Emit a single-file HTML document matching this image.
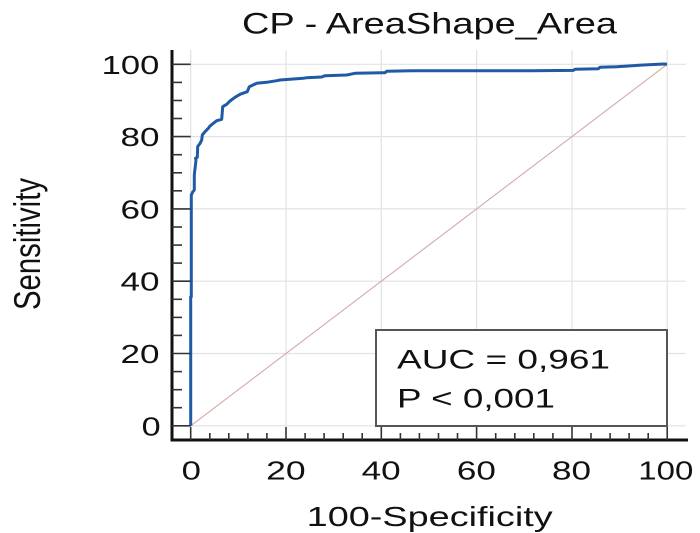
<!DOCTYPE html>
<html>
<head>
<meta charset="utf-8">
<style>
html,body{margin:0;padding:0;background:#fff;}
svg{display:block;}
text{font-family:"Liberation Sans",Arial,sans-serif;fill:#111;}
</style>
</head>
<body>
<svg width="700" height="533" viewBox="0 0 700 533" xmlns="http://www.w3.org/2000/svg">
<rect width="700" height="533" fill="#fff"/>

<!-- title -->
<text x="242" y="33.3" font-size="30" textLength="375" lengthAdjust="spacingAndGlyphs">CP - AreaShape_Area</text>

<!-- gridlines -->
<g stroke="#e2e2e2" stroke-width="1.2">
  <line x1="190.7" y1="50" x2="190.7" y2="440"/>
  <line x1="286" y1="50" x2="286" y2="440"/>
  <line x1="381.3" y1="50" x2="381.3" y2="440"/>
  <line x1="476.6" y1="50" x2="476.6" y2="440"/>
  <line x1="572" y1="50" x2="572" y2="440"/>
  <line x1="667.2" y1="50" x2="667.2" y2="440"/>
  <line x1="190" y1="64.3" x2="686" y2="64.3"/>
  <line x1="190" y1="136.6" x2="686" y2="136.6"/>
  <line x1="190" y1="208.9" x2="686" y2="208.9"/>
  <line x1="190" y1="281.2" x2="686" y2="281.2"/>
  <line x1="190" y1="353.5" x2="686" y2="353.5"/>
  <line x1="190" y1="425.8" x2="686" y2="425.8"/>
</g>

<!-- diagonal -->
<line x1="190.7" y1="425.8" x2="667.2" y2="64.3" stroke="#d3a9a9" stroke-width="1.1"/>

<!-- ROC curve -->
<polyline fill="none" stroke="#1f5aa5" stroke-width="3" stroke-linejoin="round" points="
190.7,425.8 190.7,296.7 191.3,296.7 191.3,195 192.7,192 194.3,190 194.3,175 196,160 195.5,158.3 197.3,157.3 197.7,146.5 200,143.5 201.7,140 202.3,135 205,131.7 208.3,128.3 210,126 213.3,123.3 216.7,120.7 221.7,119.3 222.7,106.7 226.7,104.3 230,101 235,97.3 240,94.3 247.3,91.7 249.3,86.7 256.7,83.3 266.7,82.3 276.7,80.7 280,80 303.3,78.3 306.7,77.7 321.7,77 325,75.7 346.7,75 355,73.3 385,72.7 386.7,71.3 411.7,70.7 530,70.7 573.3,70.4 575,69.3 598.3,68.7 600,67.3 616.7,66.7 643.3,65 664,64 667,64.3"/>

<!-- legend box -->
<rect x="376" y="330" width="291" height="96" fill="#fff" stroke="#555" stroke-width="2"/>
<text x="397" y="368.3" font-size="26.5" textLength="213" lengthAdjust="spacingAndGlyphs">AUC = 0,961</text>
<text x="397" y="407.3" font-size="26.5" textLength="158" lengthAdjust="spacingAndGlyphs">P &lt; 0,001</text>

<!-- axes -->
<g stroke="#111">
  <line x1="172" y1="50" x2="172" y2="441.5" stroke-width="3"/>
  <line x1="170.5" y1="440" x2="688" y2="440" stroke-width="3"/>
</g>

<!-- y ticks -->
<g stroke="#333" stroke-width="1.6">
  <line x1="172" y1="64.3" x2="190.7" y2="64.3"/>
  <line x1="172" y1="82.4" x2="182" y2="82.4"/>
  <line x1="172" y1="100.5" x2="182" y2="100.5"/>
  <line x1="172" y1="118.5" x2="182" y2="118.5"/>
  <line x1="172" y1="136.6" x2="190.7" y2="136.6"/>
  <line x1="172" y1="154.7" x2="182" y2="154.7"/>
  <line x1="172" y1="172.8" x2="182" y2="172.8"/>
  <line x1="172" y1="190.8" x2="182" y2="190.8"/>
  <line x1="172" y1="208.9" x2="190.7" y2="208.9"/>
  <line x1="172" y1="227" x2="182" y2="227"/>
  <line x1="172" y1="245.1" x2="182" y2="245.1"/>
  <line x1="172" y1="263.1" x2="182" y2="263.1"/>
  <line x1="172" y1="281.2" x2="190.7" y2="281.2"/>
  <line x1="172" y1="299.3" x2="182" y2="299.3"/>
  <line x1="172" y1="317.4" x2="182" y2="317.4"/>
  <line x1="172" y1="335.4" x2="182" y2="335.4"/>
  <line x1="172" y1="353.5" x2="190.7" y2="353.5"/>
  <line x1="172" y1="371.6" x2="182" y2="371.6"/>
  <line x1="172" y1="389.7" x2="182" y2="389.7"/>
  <line x1="172" y1="407.7" x2="182" y2="407.7"/>
  <line x1="172" y1="425.8" x2="190.7" y2="425.8"/>
</g>

<!-- x ticks -->
<g stroke="#333" stroke-width="1.6">
  <line x1="190.7" y1="440" x2="190.7" y2="427"/>
  <line x1="209.8" y1="440" x2="209.8" y2="433"/>
  <line x1="228.8" y1="440" x2="228.8" y2="433"/>
  <line x1="247.9" y1="440" x2="247.9" y2="433"/>
  <line x1="266.9" y1="440" x2="266.9" y2="433"/>
  <line x1="286" y1="440" x2="286" y2="427"/>
  <line x1="305.1" y1="440" x2="305.1" y2="433"/>
  <line x1="324.1" y1="440" x2="324.1" y2="433"/>
  <line x1="343.2" y1="440" x2="343.2" y2="433"/>
  <line x1="362.2" y1="440" x2="362.2" y2="433"/>
  <line x1="381.3" y1="440" x2="381.3" y2="427"/>
  <line x1="400.4" y1="440" x2="400.4" y2="433"/>
  <line x1="419.4" y1="440" x2="419.4" y2="433"/>
  <line x1="438.5" y1="440" x2="438.5" y2="433"/>
  <line x1="457.5" y1="440" x2="457.5" y2="433"/>
  <line x1="476.6" y1="440" x2="476.6" y2="427"/>
  <line x1="495.7" y1="440" x2="495.7" y2="433"/>
  <line x1="514.8" y1="440" x2="514.8" y2="433"/>
  <line x1="533.8" y1="440" x2="533.8" y2="433"/>
  <line x1="552.9" y1="440" x2="552.9" y2="433"/>
  <line x1="572" y1="440" x2="572" y2="427"/>
  <line x1="591" y1="440" x2="591" y2="433"/>
  <line x1="610.1" y1="440" x2="610.1" y2="433"/>
  <line x1="629.1" y1="440" x2="629.1" y2="433"/>
  <line x1="648.2" y1="440" x2="648.2" y2="433"/>
  <line x1="667.2" y1="440" x2="667.2" y2="427"/>
</g>

<!-- y tick labels -->
<g font-size="26">
  <text x="101.7" y="73.8" textLength="57.6" lengthAdjust="spacingAndGlyphs">100</text>
  <text x="120.5" y="146.1" textLength="39" lengthAdjust="spacingAndGlyphs">80</text>
  <text x="120.5" y="218.4" textLength="39" lengthAdjust="spacingAndGlyphs">60</text>
  <text x="120.5" y="290.7" textLength="39" lengthAdjust="spacingAndGlyphs">40</text>
  <text x="120.5" y="363" textLength="39" lengthAdjust="spacingAndGlyphs">20</text>
  <text x="141.7" y="435.3" textLength="19" lengthAdjust="spacingAndGlyphs">0</text>
</g>

<!-- x tick labels -->
<g font-size="26">
  <text x="181.7" y="479.5" textLength="19.3" lengthAdjust="spacingAndGlyphs">0</text>
  <text x="266.2" y="479.5" textLength="39.5" lengthAdjust="spacingAndGlyphs">20</text>
  <text x="361.7" y="479.5" textLength="39" lengthAdjust="spacingAndGlyphs">40</text>
  <text x="456.9" y="479.5" textLength="39" lengthAdjust="spacingAndGlyphs">60</text>
  <text x="552" y="479.5" textLength="39" lengthAdjust="spacingAndGlyphs">80</text>
  <text x="638.3" y="479.5" textLength="55" lengthAdjust="spacingAndGlyphs">100</text>
</g>

<!-- axis titles -->
<text x="306.7" y="526" font-size="28" textLength="246" lengthAdjust="spacingAndGlyphs">100-Specificity</text>
<g transform="translate(40,244) scale(1.38,1) rotate(-90)">
  <text x="0" y="0" font-size="27" text-anchor="middle" textLength="132" lengthAdjust="spacingAndGlyphs">Sensitivity</text>
</g>
</svg>
</body>
</html>
